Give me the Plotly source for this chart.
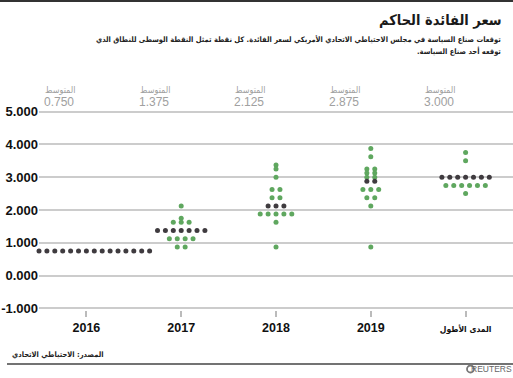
import plotly.graph_objects as go

# ---------------- data ----------------
categories = ["2016", "2017", "2018", "2019", "المدى الأطول"]
median_values = [0.750, 1.375, 2.125, 2.875, 3.000]
median_labels = ["0.750", "1.375", "2.125", "2.875", "3.000"]

dots_2016 = [0.750, 0.750, 0.750, 0.750, 0.750, 0.750, 0.750, 0.750, 0.750,
             0.750, 0.750, 0.750, 0.750, 0.750, 0.750, 0.750, 0.750]
dots_2017 = [2.125, 1.750, 1.625, 1.625, 1.625,
             1.375, 1.375, 1.375, 1.375, 1.375, 1.375, 1.375,
             1.125, 1.125, 1.125, 1.125, 0.875, 0.875]
dots_2018 = [3.375, 3.250, 3.000, 2.625, 2.625, 2.375, 2.375,
             2.125, 2.125, 2.125, 1.875, 1.875, 1.875, 1.875, 1.875,
             1.625, 0.875]
dots_2019 = [3.875, 3.625, 3.250, 3.250, 3.125, 3.125, 3.000, 3.000,
             2.875, 2.875, 2.625, 2.625, 2.625, 2.375, 2.375, 2.125, 0.875]
dots_longer = [3.750, 3.500, 3.000, 3.000, 3.000, 3.000, 3.000, 3.000, 3.000,
               2.750, 2.750, 2.750, 2.750, 2.750, 2.750, 2.500]
all_dots = [dots_2016, dots_2017, dots_2018, dots_2019, dots_longer]

y_tick_values = [-1, 0, 1, 2, 3, 4, 5]
y_tick_labels = ["-1.000", "0.000", "1.000", "2.000", "3.000", "4.000", "5.000"]

title_text = "سعر الفائدة الحاكم"
subtitle_line1 = "توقعات صناع السياسة في مجلس الاحتياطي الاتحادي الأمريكي لسعر الفائدة. كل نقطة تمثل النقطة الوسطى للنطاق الذي"
subtitle_line2 = "توقعه أحد صناع السياسة.\u200f"
median_word = "المتوسط"
source_text = "المصدر: الاحتياطي الاتحادي"

# ---------------- styling / layout constants ----------------
W, H = 513, 378
M_L, M_R, M_T, M_B = 39, 0, 110, 68
PW, PH = W - M_L - M_R, H - M_T - M_B
SLOT = 7.9 / (PW / 5.0)   # horizontal distance between neighbouring dots (x units)
GREEN = "#5fa75f"
DARK = "#3f3b3f"
GRAY_TXT = "#a0a0a0"
FONT = "Liberation Sans, Arial, sans-serif"
AR_FONT = "DejaVu Sans Condensed, DejaVu Sans, sans-serif"


def px_x(p):
    return (p - M_L) / PW


def px_y(p):
    return (H - M_B - p) / PH


# beeswarm: dots of equal value are laid out in a centred row
gx, gy, dx, dy = [], [], [], []
for ci, (vals, med) in enumerate(zip(all_dots, median_values)):
    rows = {}
    for v in vals:
        rows[v] = rows.get(v, 0) + 1
    for v, n in rows.items():
        for k in range(n):
            xv = ci + (k - (n - 1) / 2) * SLOT
            if abs(v - med) < 1e-9:
                dx.append(xv); dy.append(v)
            else:
                gx.append(xv); gy.append(v)

fig = go.Figure()
fig.add_trace(go.Scatter(x=gx, y=gy, mode="markers", cliponaxis=False,
                         marker=dict(size=5, color=GREEN), hoverinfo="y"))
fig.add_trace(go.Scatter(x=dx, y=dy, mode="markers", cliponaxis=False,
                         marker=dict(size=5, color=DARK), hoverinfo="y"))


def txt(text, x_px, y_px, anchor, size, color, family=AR_FONT):
    return dict(text=text, xref="paper", yref="paper", x=px_x(x_px), y=px_y(y_px),
                xanchor=anchor, yanchor="middle", showarrow=False, borderpad=0,
                font=dict(size=size, color=color, family=family))


annotations = [
    txt("<b>" + title_text + "</b>", 503, 20, "right", 14.5, "#1a1a1a"),
    txt("<b>" + subtitle_line1 + "</b>", 502, 39, "right", 7.5, "#222"),
    txt("<b>" + subtitle_line2 + "</b>", 502, 51, "right", 7.5, "#222"),
    txt("<b>" + source_text + "</b>", 11, 354, "left", 7.5, "#222"),
    txt("REUTERS", 513, 369, "right", 8.5, "#666", FONT),
]
for ci, lab in enumerate(median_labels):
    annotations.append(dict(text=median_word, xref="x", yref="paper", x=ci, xshift=-42,
                            y=px_y(90), xanchor="left", yanchor="middle", showarrow=False,
                            borderpad=0, font=dict(size=9, color=GRAY_TXT, family=AR_FONT)))
    annotations.append(dict(text=lab, xref="x", yref="paper", x=ci, xshift=-43,
                            y=px_y(102), xanchor="left", yanchor="middle", showarrow=False,
                            borderpad=0, font=dict(size=12, color=GRAY_TXT, family=FONT)))

shapes = [
    dict(type="line", xref="paper", yref="paper", x0=px_x(0), x1=px_x(513),
         y0=px_y(1), y1=px_y(1), line=dict(color="#333", width=2)),
    dict(type="line", xref="paper", yref="paper", x0=px_x(7), x1=px_x(513),
         y0=px_y(364), y1=px_y(364), line=dict(color="#444", width=1.5)),
    dict(type="circle", xref="paper", yref="paper", x0=px_x(467), x1=px_x(474),
         y0=px_y(372.5), y1=px_y(365.5), line=dict(color="#777", width=1.8)),
]

fig.update_layout(
    width=W, height=H,
    margin=dict(l=M_L, r=M_R, t=M_T, b=M_B, pad=0),
    paper_bgcolor="white", plot_bgcolor="white",
    showlegend=False,
    font=dict(family=FONT),
    annotations=annotations,
    shapes=shapes,
    xaxis=dict(range=[-0.5, 4.5], tickvals=[0, 1, 2, 3, 4],
               ticktext=["<b>" + c + "</b>" for c in categories[:4]] +
                        ["<span style='font-family:DejaVu Sans Condensed;font-size:8.5px'><b>" + categories[4] + "</b></span>"],
               showgrid=False, zeroline=False, showline=False, automargin=False,
               ticks="outside", ticklen=6, tickwidth=1.5, tickcolor="#bbbbbb",
               tickfont=dict(size=12.5, color="#111", family=FONT), fixedrange=True),
    yaxis=dict(range=[-1.05, 5.05], tickvals=y_tick_values,
               ticktext=["<b>" + t + "</b>" for t in y_tick_labels],
               showgrid=True, gridcolor="#cccccc", gridwidth=1.5, automargin=False,
               zeroline=False, showline=False, ticks="",
               tickfont=dict(size=13, color="#111", family=FONT), fixedrange=True),
)

fig.write_html("out.html", config={"displayModeBar": False},
               post_script="document.body.style.margin='0';document.body.style.padding='0';"
                           "document.body.style.overflow='hidden';")
